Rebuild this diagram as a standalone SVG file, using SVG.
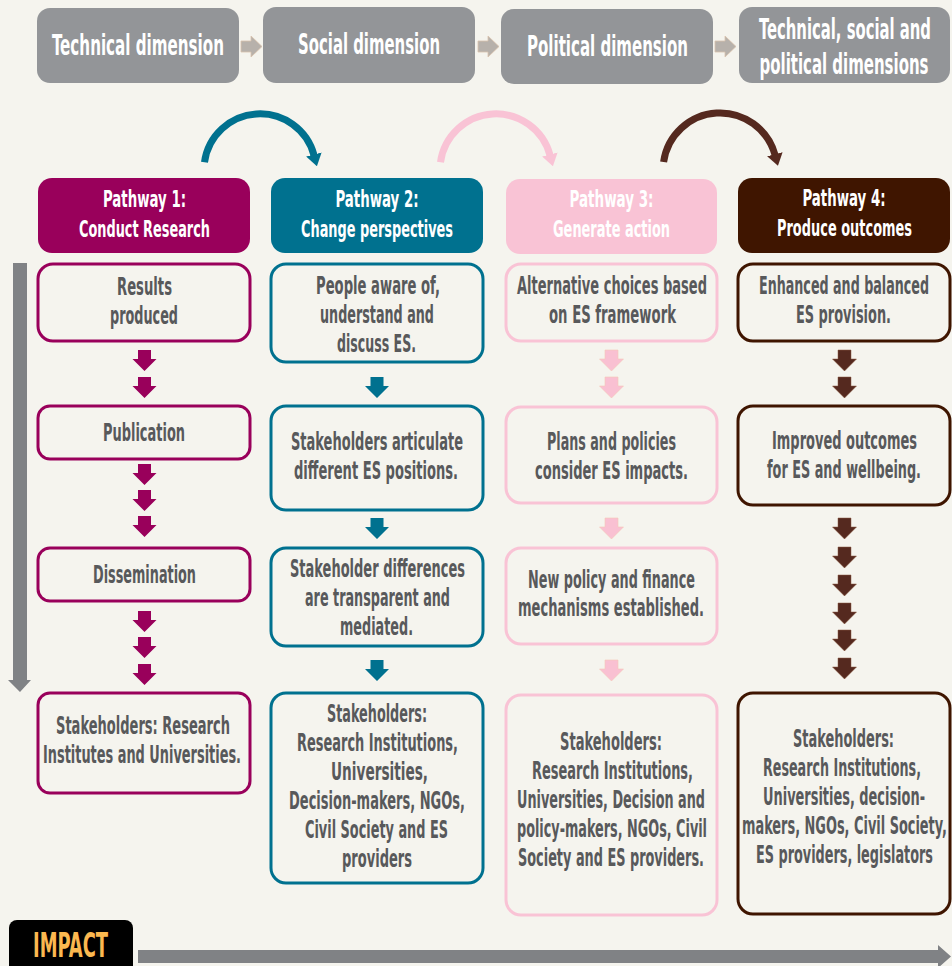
<svg xmlns="http://www.w3.org/2000/svg" xmlns:xlink="http://www.w3.org/1999/xlink" width="952" height="966" viewBox="0 0 952 966">
<style>
text{font-family:"Liberation Sans Narrow","DejaVu Sans Condensed","Liberation Sans",sans-serif;font-weight:bold;font-stretch:condensed;text-anchor:middle}
.top{fill:#939598}
.toptx{fill:#fff;font-size:29px}
.hdtx{fill:#fff;font-size:23px}
.tx{fill:#58595b;font-size:24.5px}
.b1{fill:none;stroke:#99005b;stroke-width:3}
.b2{fill:none;stroke:#00718f;stroke-width:3}
.b3{fill:none;stroke:#f9c3d5;stroke-width:3}
.b4{fill:none;stroke:#3f1500;stroke-width:3}
.ga{fill:#b7b1ab;stroke:#d9c3ad;stroke-width:0.8}
.a1{fill:#99005b}
.a2{fill:#00718f}
.a3{fill:#f9c0d2;stroke:#f5c7b6;stroke-width:0.6}
.a4{fill:#55291f;stroke:#8a5a40;stroke-width:0.5}
.arc{fill:none;stroke-width:7}
</style>
<defs>
<path id="da" d="M-6.5,0 H6.5 V9 H12 L0,21 L-12,9 H-6.5 Z"/>
<marker id="mt" markerUnits="userSpaceOnUse" viewBox="0 0 12 16" markerWidth="12" markerHeight="16" refX="1" refY="8" orient="auto"><path d="M0,0 L12,8 L0,16 Z" fill="#00718f"/></marker>
<marker id="mp" markerUnits="userSpaceOnUse" viewBox="0 0 12 16" markerWidth="12" markerHeight="16" refX="1" refY="8" orient="auto"><path d="M0,0 L12,8 L0,16 Z" fill="#f9c3d5"/></marker>
<marker id="mb" markerUnits="userSpaceOnUse" viewBox="0 0 12 16" markerWidth="12" markerHeight="16" refX="1" refY="8" orient="auto"><path d="M0,0 L12,8 L0,16 Z" fill="#55291f"/></marker>
</defs>
<rect x="0" y="0" width="952" height="966" fill="#f5f4ee"/>

<g id="dim-technical">
<rect class="top" x="37" y="8" width="202" height="75" rx="13"/>
<text class="toptx" x="138" y="55" textLength="172" lengthAdjust="spacingAndGlyphs">Technical dimension</text>
</g>
<g id="dim-social">
<rect class="top" x="263" y="7" width="212" height="76" rx="13"/>
<text class="toptx" x="369" y="54" textLength="142" lengthAdjust="spacingAndGlyphs">Social dimension</text>
</g>
<g id="dim-political">
<rect class="top" x="501" y="9" width="212" height="75" rx="13"/>
<text class="toptx" x="607.5" y="56" textLength="161" lengthAdjust="spacingAndGlyphs">Political dimension</text>
</g>
<g id="dim-all">
<rect class="top" x="739" y="7" width="211" height="76" rx="13"/>
<text class="toptx" x="845" y="39" textLength="172" lengthAdjust="spacingAndGlyphs">Technical, social and</text>
<text class="toptx" x="844" y="74" textLength="169" lengthAdjust="spacingAndGlyphs">political dimensions</text>
</g>

<g id="pathway1-header">
<rect x="38" y="178" width="212" height="75" rx="14" fill="#99005b"/>
<text class="hdtx" x="144.5" y="207" textLength="83" lengthAdjust="spacingAndGlyphs">Pathway 1:</text>
<text class="hdtx" x="144.5" y="237" textLength="131" lengthAdjust="spacingAndGlyphs">Conduct Research</text>
</g>
<g id="pathway2-header">
<rect x="271" y="178" width="212" height="75" rx="14" fill="#00718f"/>
<text class="hdtx" x="377" y="207" textLength="83" lengthAdjust="spacingAndGlyphs">Pathway 2:</text>
<text class="hdtx" x="377" y="237" textLength="152" lengthAdjust="spacingAndGlyphs">Change perspectives</text>
</g>
<g id="pathway3-header">
<rect x="506" y="179" width="211" height="75" rx="14" fill="#f9c3d5"/>
<text class="hdtx" x="611.5" y="207" textLength="84" lengthAdjust="spacingAndGlyphs">Pathway 3:</text>
<text class="hdtx" x="611.5" y="237" textLength="117" lengthAdjust="spacingAndGlyphs">Generate action</text>
</g>
<g id="pathway4-header">
<rect x="738" y="178" width="212" height="75" rx="14" fill="#3f1500"/>
<text class="hdtx" x="844" y="206" textLength="83" lengthAdjust="spacingAndGlyphs">Pathway 4:</text>
<text class="hdtx" x="844.5" y="236" textLength="135" lengthAdjust="spacingAndGlyphs">Produce outcomes</text>
</g>

<!-- Column 1 -->
<g id="p1-results">
<rect class="b1" x="38" y="264" width="212" height="77" rx="15"/>
<text class="tx" x="144.5" y="295" textLength="55" lengthAdjust="spacingAndGlyphs">Results</text>
<text class="tx" x="144" y="324" textLength="68" lengthAdjust="spacingAndGlyphs">produced</text>
</g>
<g id="p1-publication">
<rect class="b1" x="38" y="406" width="212" height="53" rx="12"/>
<text class="tx" x="144" y="441" textLength="82" lengthAdjust="spacingAndGlyphs">Publication</text>
</g>
<g id="p1-dissemination">
<rect class="b1" x="38" y="548" width="212" height="53" rx="12"/>
<text class="tx" x="144.5" y="583" textLength="103" lengthAdjust="spacingAndGlyphs">Dissemination</text>
</g>
<g id="p1-stakeholders">
<rect class="b1" x="38" y="693" width="212" height="100" rx="12"/>
<text class="tx" x="143" y="734" textLength="174" lengthAdjust="spacingAndGlyphs">Stakeholders: Research</text>
<text class="tx" x="142" y="763" textLength="198" lengthAdjust="spacingAndGlyphs">Institutes and Universities.</text>
</g>

<!-- Column 2 -->
<g id="p2-aware">
<rect class="b2" x="271" y="264" width="212" height="98" rx="15"/>
<text class="tx" x="378" y="294" textLength="124" lengthAdjust="spacingAndGlyphs">People aware of,</text>
<text class="tx" x="377" y="323" textLength="114" lengthAdjust="spacingAndGlyphs">understand and</text>
<text class="tx" x="376.5" y="352" textLength="79" lengthAdjust="spacingAndGlyphs">discuss ES.</text>
</g>
<g id="p2-articulate">
<rect class="b2" x="271" y="406" width="212" height="104" rx="15"/>
<text class="tx" x="377" y="450" textLength="172" lengthAdjust="spacingAndGlyphs">Stakeholders articulate</text>
<text class="tx" x="376" y="479" textLength="164" lengthAdjust="spacingAndGlyphs">different ES positions.</text>
</g>
<g id="p2-differences">
<rect class="b2" x="271" y="548" width="212" height="98" rx="15"/>
<text class="tx" x="377.5" y="577" textLength="175" lengthAdjust="spacingAndGlyphs">Stakeholder differences</text>
<text class="tx" x="377.5" y="606" textLength="145" lengthAdjust="spacingAndGlyphs">are transparent and</text>
<text class="tx" x="376.5" y="635" textLength="73" lengthAdjust="spacingAndGlyphs">mediated.</text>
</g>
<g id="p2-stakeholders">
<rect class="b2" x="271" y="693" width="212" height="190" rx="15"/>
<text class="tx" x="377" y="722" textLength="100" lengthAdjust="spacingAndGlyphs">Stakeholders:</text>
<text class="tx" x="377.5" y="751" textLength="161" lengthAdjust="spacingAndGlyphs">Research Institutions,</text>
<text class="tx" x="379.5" y="780" textLength="97" lengthAdjust="spacingAndGlyphs">Universities,</text>
<text class="tx" x="377" y="809" textLength="176" lengthAdjust="spacingAndGlyphs">Decision-makers, NGOs,</text>
<text class="tx" x="376.5" y="838" textLength="143" lengthAdjust="spacingAndGlyphs">Civil Society and ES</text>
<text class="tx" x="377" y="867" textLength="70" lengthAdjust="spacingAndGlyphs">providers</text>
</g>

<!-- Column 3 -->
<g id="p3-choices">
<rect class="b3" x="506" y="264" width="211" height="77" rx="15"/>
<text class="tx" x="612" y="294" textLength="190" lengthAdjust="spacingAndGlyphs">Alternative choices based</text>
<text class="tx" x="612.5" y="323" textLength="127" lengthAdjust="spacingAndGlyphs">on ES framework</text>
</g>
<g id="p3-plans">
<rect class="b3" x="506" y="407" width="211" height="96" rx="15"/>
<text class="tx" x="611.5" y="450" textLength="129" lengthAdjust="spacingAndGlyphs">Plans and policies</text>
<text class="tx" x="611.5" y="479" textLength="153" lengthAdjust="spacingAndGlyphs">consider ES impacts.</text>
</g>
<g id="p3-mechanisms">
<rect class="b3" x="506" y="548" width="211" height="96" rx="15"/>
<text class="tx" x="611.5" y="588" textLength="167" lengthAdjust="spacingAndGlyphs">New policy and finance</text>
<text class="tx" x="611" y="616" textLength="186" lengthAdjust="spacingAndGlyphs">mechanisms established.</text>
</g>
<g id="p3-stakeholders">
<rect class="b3" x="506" y="695" width="211" height="220" rx="15"/>
<text class="tx" x="611" y="750" textLength="102" lengthAdjust="spacingAndGlyphs">Stakeholders:</text>
<text class="tx" x="612.5" y="779" textLength="161" lengthAdjust="spacingAndGlyphs">Research Institutions,</text>
<text class="tx" x="611" y="808" textLength="188" lengthAdjust="spacingAndGlyphs">Universities, Decision and</text>
<text class="tx" x="612" y="837" textLength="190" lengthAdjust="spacingAndGlyphs">policy-makers, NGOs, Civil</text>
<text class="tx" x="611" y="866" textLength="186" lengthAdjust="spacingAndGlyphs">Society and ES providers.</text>
</g>

<!-- Column 4 -->
<g id="p4-provision">
<rect class="b4" x="738" y="264" width="212" height="77" rx="15"/>
<text class="tx" x="844" y="294" textLength="170" lengthAdjust="spacingAndGlyphs">Enhanced and balanced</text>
<text class="tx" x="843.5" y="323" textLength="95" lengthAdjust="spacingAndGlyphs">ES provision.</text>
</g>
<g id="p4-outcomes">
<rect class="b4" x="738" y="406" width="212" height="99" rx="15"/>
<text class="tx" x="844.5" y="449" textLength="145" lengthAdjust="spacingAndGlyphs">Improved outcomes</text>
<text class="tx" x="844" y="478" textLength="154" lengthAdjust="spacingAndGlyphs">for ES and wellbeing.</text>
</g>
<g id="p4-stakeholders">
<rect class="b4" x="738" y="693" width="212" height="221" rx="15"/>
<text class="tx" x="843.5" y="747" textLength="101" lengthAdjust="spacingAndGlyphs">Stakeholders:</text>
<text class="tx" x="842" y="776" textLength="158" lengthAdjust="spacingAndGlyphs">Research Institutions,</text>
<text class="tx" x="844" y="805" textLength="162" lengthAdjust="spacingAndGlyphs">Universities, decision-</text>
<text class="tx" x="844.5" y="834" textLength="205" lengthAdjust="spacingAndGlyphs">makers, NGOs, Civil Society,</text>
<text class="tx" x="844.5" y="863" textLength="177" lengthAdjust="spacingAndGlyphs">ES providers, legislators</text>
</g>

<g id="impact">
<rect x="9" y="920" width="124" height="60" rx="8" fill="#000"/>
<text x="70.5" y="957" style="fill:#fbb850;font-size:34px" textLength="75" lengthAdjust="spacingAndGlyphs">IMPACT</text>
</g>

<g id="connectors">
<polygon class="ga" points="241,41 251,41 251,36 262,46.5 251,57 251,52 241,52"/>
<polygon class="ga" points="478,41 488,41 488,36 499,46.5 488,57 488,52 478,52"/>
<polygon class="ga" points="715,41 725,41 725,36 736,46.5 725,57 725,52 715,52"/>

<path class="arc" stroke="#00718f" marker-end="url(#mt)" d="M204.5,162.2 A56,56 0 0 1 314.1,155.5"/>
<path class="arc" stroke="#f9c3d5" marker-end="url(#mp)" d="M440.5,162.2 A56,56 0 0 1 550.1,155.5"/>
<path class="arc" stroke="#55291f" marker-end="url(#mb)" d="M663.6,162.1 A57,57 0 0 1 775.1,155.2"/>

<use href="#da" class="a1" transform="translate(144.5,350)"/>
<use href="#da" class="a1" transform="translate(144.5,377)"/>
<use href="#da" class="a1" transform="translate(144.5,464)"/>
<use href="#da" class="a1" transform="translate(144.5,490)"/>
<use href="#da" class="a1" transform="translate(144.5,516)"/>
<use href="#da" class="a1" transform="translate(144.5,611)"/>
<use href="#da" class="a1" transform="translate(144.5,637)"/>
<use href="#da" class="a1" transform="translate(144.5,664)"/>

<use href="#da" class="a2" transform="translate(377,377)"/>
<use href="#da" class="a2" transform="translate(377,518)"/>
<use href="#da" class="a2" transform="translate(377,660)"/>

<use href="#da" class="a3" transform="translate(611.5,350)"/>
<use href="#da" class="a3" transform="translate(611.5,377)"/>
<use href="#da" class="a3" transform="translate(611.5,518)"/>
<use href="#da" class="a3" transform="translate(611.5,660)"/>

<use href="#da" class="a4" transform="translate(844.5,350)"/>
<use href="#da" class="a4" transform="translate(844.5,377)"/>
<use href="#da" class="a4" transform="translate(844.5,518)"/>
<use href="#da" class="a4" transform="translate(844.5,547)"/>
<use href="#da" class="a4" transform="translate(844.5,575)"/>
<use href="#da" class="a4" transform="translate(844.5,603)"/>
<use href="#da" class="a4" transform="translate(844.5,630)"/>
<use href="#da" class="a4" transform="translate(844.5,658)"/>

<path fill="#808285" d="M13,263 H27 V680 H31 L20,692 L8,680 H13 Z"/>
<path fill="#808285" d="M138,950 H938 V945 L951,956.5 L938,968 V963 H138 Z"/>
</g>
</svg>
